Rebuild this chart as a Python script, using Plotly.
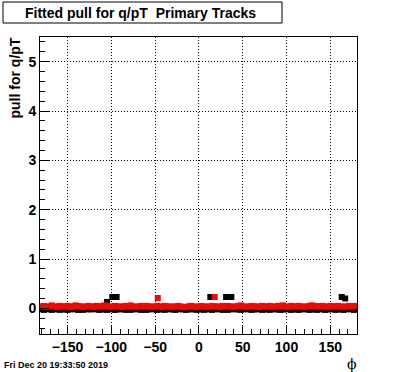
import plotly.graph_objects as go

# ---- data ----
phi = list(range(-180, 181, 3))  # 121 bins

red_pull = [0.04,0.05,0.03,0.04,0.06,0.04,0.03,0.05,0.04,0.04,
            0.05,0.03,0.04,0.06,0.05,0.04,0.03,0.04,0.05,0.04,
            0.03,0.05,0.04,0.04,0.06,0.05,0.03,0.04,0.05,0.04,
            0.04,0.03,0.05,0.04,0.06,0.04,0.03,0.04,0.05,0.04,
            0.05,0.04,0.03,0.04,0.05,0.04,0.03,0.05,0.04,0.04,
            0.03,0.04,0.05,0.04,0.02,0.03,0.04,0.05,0.04,0.03,
            0.04,0.05,0.04,0.03,0.04,0.05,0.04,0.04,0.03,0.05,
            0.04,0.05,0.04,0.03,0.04,0.05,0.06,0.04,0.03,0.04,
            0.05,0.04,0.04,0.03,0.05,0.04,0.04,0.05,0.03,0.04,
            0.05,0.04,0.06,0.04,0.03,0.05,0.04,0.04,0.05,0.04,
            0.03,0.04,0.05,0.06,0.05,0.04,0.04,0.05,0.04,0.03,
            0.05,0.04,0.04,0.05,0.04,0.03,0.04,0.05,0.04,0.05,0.04]

black_pull = [-0.02,-0.03,-0.01,-0.02,-0.03,-0.02,-0.01,-0.03,-0.02,-0.02,
              -0.03,-0.02,-0.01,-0.02,-0.03,-0.02,-0.03,-0.01,-0.02,-0.02,
              -0.01,-0.02,-0.03,-0.02,-0.02,-0.03,-0.01,-0.02,-0.03,-0.02,
              -0.02,-0.01,-0.03,-0.02,-0.03,-0.02,-0.01,-0.02,-0.03,-0.02,
              -0.03,-0.02,-0.01,-0.02,-0.03,-0.02,-0.02,-0.03,-0.01,-0.02,
              -0.02,-0.03,-0.02,-0.01,-0.02,-0.03,-0.02,-0.02,-0.01,-0.03,
              -0.02,-0.02,-0.03,-0.01,-0.02,-0.03,-0.02,-0.01,-0.02,-0.03,
              -0.02,-0.03,-0.02,-0.01,-0.02,-0.02,-0.03,-0.02,-0.01,-0.02,
              -0.03,-0.02,-0.02,-0.01,-0.03,-0.02,-0.02,-0.03,-0.01,-0.02,
              -0.02,-0.03,-0.02,-0.02,-0.01,-0.03,-0.02,-0.02,-0.03,-0.02,
              -0.01,-0.02,-0.03,-0.02,-0.02,-0.03,-0.01,-0.02,-0.03,-0.02,
              -0.02,-0.01,-0.03,-0.02,-0.02,-0.03,-0.02,-0.01,-0.02,-0.03,-0.02]

black_out_x = [-105, -99, -96, -94, 13, 31, 34, 37, 163, 167]
black_out_y = [0.13, 0.23, 0.23, 0.23, 0.23, 0.23, 0.23, 0.23, 0.23, 0.20]
red_out_x = [-47, 18]
red_out_y = [0.21, 0.23]

x_ticks = [-150, -100, -50, 0, 50, 100, 150]
y_ticks = [0, 1, 2, 3, 4, 5]

title_text = "Fitted pull for q/pT  Primary Tracks"
y_title = "pull for q/pT"
x_title = "ϕ"
date_text = "Fri Dec 20 19:33:50 2019"

# ---- figure ----
W, H = 396, 372
L, R, T, B = 40, 39, 37, 38
pw, ph = W - L - R, H - T - B

def px(x):
    return (x - L) / pw

def py(y):
    return (H - B - y) / ph

font_b = dict(family="Liberation Sans, Arial, Helvetica", color="black", weight="bold")

fig = go.Figure()
fig.add_trace(go.Scatter(
    x=phi + black_out_x, y=black_pull + black_out_y, mode="markers",
    marker=dict(symbol="square", size=6, color="black", line=dict(width=0)),
    error_y=dict(type="constant", value=0.03, color="rgba(0,0,0,0.35)", thickness=1, width=0),
    showlegend=False, hoverinfo="skip"))
fig.add_trace(go.Scatter(
    x=phi + red_out_x, y=red_pull + red_out_y, mode="markers",
    marker=dict(symbol="square", size=6, color="#ff0000", line=dict(width=0)),
    error_y=dict(type="constant", value=0.03, color="rgba(255,0,0,0.35)", thickness=1, width=0),
    showlegend=False, hoverinfo="skip"))

axis_common = dict(
    showline=True, linecolor="black", linewidth=1, mirror=True,
    showgrid=True, gridcolor="black", gridwidth=1, griddash="1px,2px",
    zeroline=False, ticks="inside", ticklen=9, tickcolor="black", tickwidth=1,
    tickfont=dict(size=14, **font_b),
)

fig.update_xaxes(range=[-181.5, 180.5], tickvals=x_ticks,
                 minor=dict(dtick=10, ticks="inside", ticklen=5, tickcolor="black", showgrid=False),
                 **axis_common)
fig.update_yaxes(range=[-0.52, 5.5], tickvals=y_ticks,
                 minor=dict(dtick=0.2, ticks="inside", ticklen=5, tickcolor="black", showgrid=False),
                 **axis_common)

fig.update_layout(
    width=W, height=H,
    margin=dict(l=L, r=R, t=T, b=B, pad=0),
    paper_bgcolor="white", plot_bgcolor="white",
    showlegend=False,
)

# title box
fig.add_shape(type="rect", xref="paper", yref="paper",
              x0=px(3), x1=px(282), y0=py(23), y1=py(2),
              line=dict(color="black", width=1), fillcolor="white")
fig.add_annotation(text=title_text, xref="paper", yref="paper",
                   x=px(140), y=py(12.5), xanchor="center", yanchor="middle",
                   showarrow=False, font=dict(size=14, **font_b))
# y title
fig.add_annotation(text=y_title, xref="paper", yref="paper",
                   x=px(15), y=py(36), xanchor="center", yanchor="top",
                   textangle=-90, showarrow=False, font=dict(size=14, **font_b))
# x title
fig.add_annotation(text=x_title, xref="paper", yref="paper",
                   x=px(352), y=py(364), xanchor="center", yanchor="middle",
                   showarrow=False, font=dict(size=14, family="DejaVu Serif", color="black"))
# date
fig.add_annotation(text=date_text, xref="paper", yref="paper",
                   x=px(2), y=py(365), xanchor="left", yanchor="middle",
                   showarrow=False, font=dict(size=9, **font_b))

fig.write_html("out.html", config={"displayModeBar": False},
               post_script="document.body.style.margin='0';document.body.style.padding='0';")
